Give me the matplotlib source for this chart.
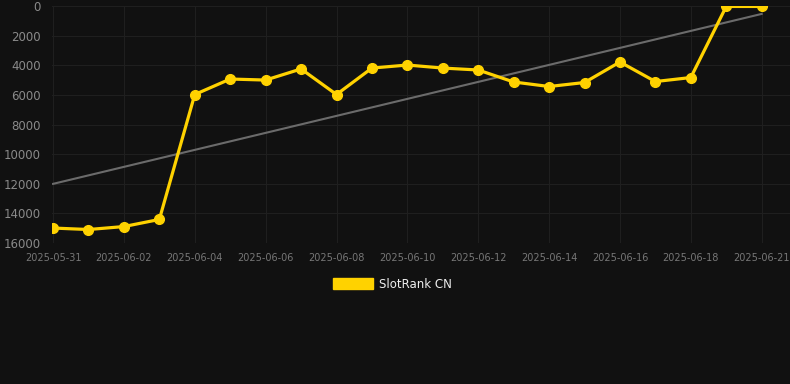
import numpy as np
import matplotlib
matplotlib.use('Agg')
from matplotlib import pyplot as plt
from matplotlib.patches import Patch

dates = ['2025-05-31', '2025-06-01', '2025-06-02', '2025-06-03', '2025-06-04',
         '2025-06-05', '2025-06-06', '2025-06-07', '2025-06-08', '2025-06-09',
         '2025-06-10', '2025-06-11', '2025-06-12', '2025-06-13', '2025-06-14',
         '2025-06-15', '2025-06-16', '2025-06-17', '2025-06-18', '2025-06-19',
         '2025-06-20']
rank = [14990, 15090, 14890, 14410, 5975, 4930, 5000, 4250, 5975, 4190,
        3985, 4190, 4320, 5130, 5435, 5165, 3780, 5100, 4830, 30, 30]
tick_labels = ['2025-05-31', '2025-06-02', '2025-06-04', '2025-06-06', '2025-06-08',
               '2025-06-10', '2025-06-12', '2025-06-14', '2025-06-16', '2025-06-18',
               '2025-06-21']
y_ticks = [0, 2000, 4000, 6000, 8000, 10000, 12000, 14000, 16000]

bg = '#111111'
yellow = '#ffd200'

x = np.arange(len(dates))
slope, icpt = np.polyfit(x, rank, 1)

fig = plt.figure(figsize=(7.9, 3.84), dpi=100, facecolor=bg)
ax = fig.add_axes([52 / 790, 1 - 243 / 384, 738 / 790, 237 / 384])
ax.set_facecolor(bg)

ax.plot(x, slope * x + icpt, color='#6b6b6b', lw=1.5, zorder=2)
ax.plot(x, rank, color=yellow, lw=2.3, marker='o', ms=7, zorder=3)

ax.set_xlim(-0.03, 20.8)
ax.set_ylim(16000, 0)
ax.set_yticks(y_ticks)
ax.set_yticklabels([str(v) for v in y_ticks])
ax.set_xticks(x[::2][:10].tolist() + [20])
ax.set_xticklabels(tick_labels)

ax.grid(True, color='#1f1f1f', lw=0.8)
ax.set_axisbelow(True)
for s in ax.spines.values():
    s.set_visible(False)
ax.tick_params(axis='y', colors='#8a8a8a', labelsize=8.5, length=0, pad=8)
ax.tick_params(axis='x', colors='#777777', labelsize=7, length=0, pad=7)

fig.legend(handles=[Patch(facecolor=yellow, edgecolor=yellow)], labels=['SlotRank CN'],
           loc='center', bbox_to_anchor=(0.497, 1 - 284 / 384), frameon=False,
           labelcolor='#eeeeee', fontsize=8.5, handlelength=3.4, handleheight=1.0,
           handletextpad=0.5)

fig.savefig('out.png', dpi=100, facecolor=bg)
